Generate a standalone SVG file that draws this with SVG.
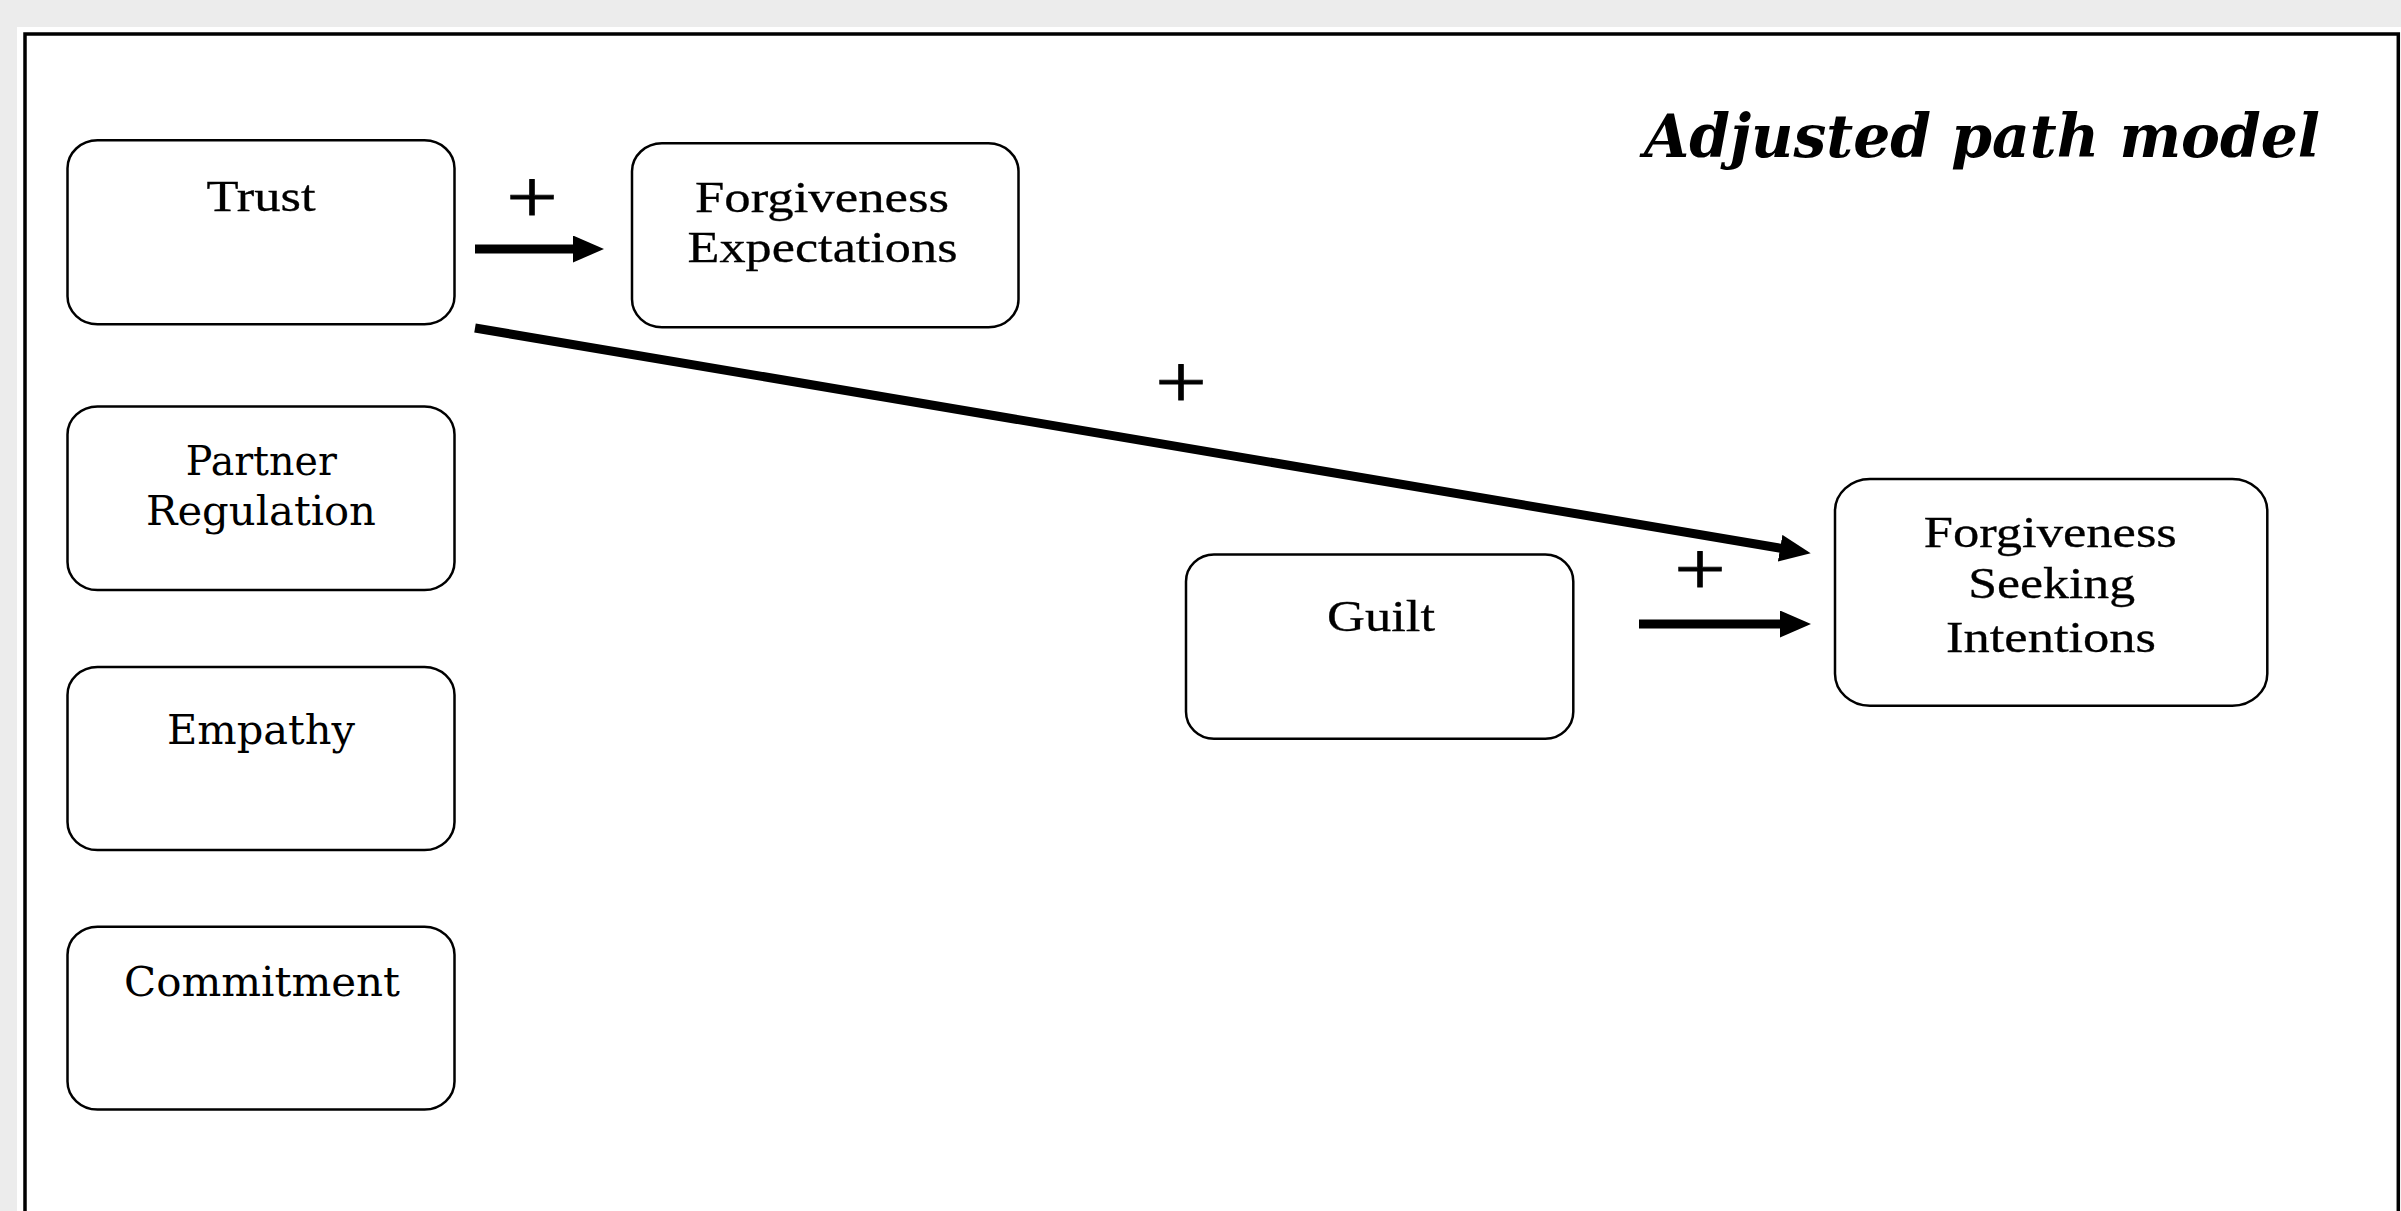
<svg xmlns="http://www.w3.org/2000/svg" width="2401" height="1211" viewBox="0 0 2401 1211">
<style>
.node rect{fill:#fff;stroke:#000;stroke-width:2.5}
.lbl{font-family:"Liberation Serif","Times New Roman",serif;font-size:45px;fill:#000;stroke:#000;stroke-width:0.3;text-anchor:middle}
.lbl2{font-family:"DejaVu Serif","Liberation Serif",serif;font-size:41px;fill:#000;text-anchor:middle}
.plus{font-family:"Liberation Serif","Times New Roman",serif;font-size:77px;fill:#000;stroke:#000;stroke-width:0.8;text-anchor:middle}
.edge{stroke:#000;stroke-width:9;fill:none;marker-end:url(#ah)}
</style>
<defs>
<marker id="ah" markerUnits="userSpaceOnUse" markerWidth="31" markerHeight="27" viewBox="0 0 31 27" refX="2" refY="13.5" orient="auto">
<path d="M0,0 L31,13.5 L0,27 Z" fill="#000"/>
</marker>
</defs>
<rect x="0" y="0" width="2401" height="1211" fill="#ececec"/>
<rect x="17" y="27" width="2384" height="1184" fill="#fff"/>
<rect x="25" y="34" width="2373.3" height="1200" fill="none" stroke="#000" stroke-width="3.5"/>
<text x="1644" y="157" font-family="'DejaVu Serif','Liberation Serif',serif" font-size="60" font-weight="bold" font-style="italic" textLength="676" lengthAdjust="spacingAndGlyphs">Adjusted path model</text>
<g id="connectors">
<line class="edge" x1="475" y1="249" x2="575" y2="249"/>
<line class="edge" x1="475" y1="328" x2="1782.1" y2="548.5"/>
<line class="edge" x1="1639" y1="624" x2="1782" y2="624"/>
<text class="plus" x="532" y="222" textLength="51.5" lengthAdjust="spacingAndGlyphs">+</text>
<text class="plus" x="1181" y="407" textLength="51.5" lengthAdjust="spacingAndGlyphs">+</text>
<text class="plus" x="1700" y="594" textLength="51.5" lengthAdjust="spacingAndGlyphs">+</text>
</g>
<g id="trust" class="node">
<rect x="67.5" y="140.3" width="387" height="184" rx="30" ry="28"/>
<text class="lbl" x="261" y="211" textLength="109" lengthAdjust="spacingAndGlyphs">Trust</text>
</g>
<g id="forgiveness-expectations" class="node">
<rect x="632" y="143.3" width="386.5" height="184" rx="30" ry="28"/>
<text class="lbl" x="822" y="211.7" textLength="254" lengthAdjust="spacingAndGlyphs">Forgiveness</text>
<text class="lbl" x="822.5" y="261.7" textLength="270" lengthAdjust="spacingAndGlyphs">Expectations</text>
</g>
<g id="partner-regulation" class="node">
<rect x="67.5" y="406.5" width="387" height="183.5" rx="30" ry="28"/>
<text class="lbl2" x="261.3" y="475.4" textLength="151" lengthAdjust="spacingAndGlyphs">Partner</text>
<text class="lbl2" x="261" y="524.7" textLength="230" lengthAdjust="spacingAndGlyphs">Regulation</text>
</g>
<g id="empathy" class="node">
<rect x="67.5" y="667" width="387" height="183" rx="30" ry="28"/>
<text class="lbl2" x="261" y="743.5" textLength="188" lengthAdjust="spacingAndGlyphs">Empathy</text>
</g>
<g id="commitment" class="node">
<rect x="67.5" y="926.7" width="387" height="182.8" rx="30" ry="28"/>
<text class="lbl2" x="262" y="995.8" textLength="276" lengthAdjust="spacingAndGlyphs">Commitment</text>
</g>
<g id="guilt" class="node">
<rect x="1186" y="554.5" width="387.3" height="184.2" rx="28" ry="27"/>
<text class="lbl" x="1381" y="631" textLength="108" lengthAdjust="spacingAndGlyphs">Guilt</text>
</g>
<g id="forgiveness-seeking-intentions" class="node">
<rect x="1835" y="479" width="432.3" height="226.7" rx="35" ry="32"/>
<text class="lbl" x="2050.3" y="546.7" textLength="253" lengthAdjust="spacingAndGlyphs">Forgiveness</text>
<text class="lbl" x="2051.7" y="597.7" textLength="167" lengthAdjust="spacingAndGlyphs">Seeking</text>
<text class="lbl" x="2051" y="652.3" textLength="210" lengthAdjust="spacingAndGlyphs">Intentions</text>
</g>
</svg>
